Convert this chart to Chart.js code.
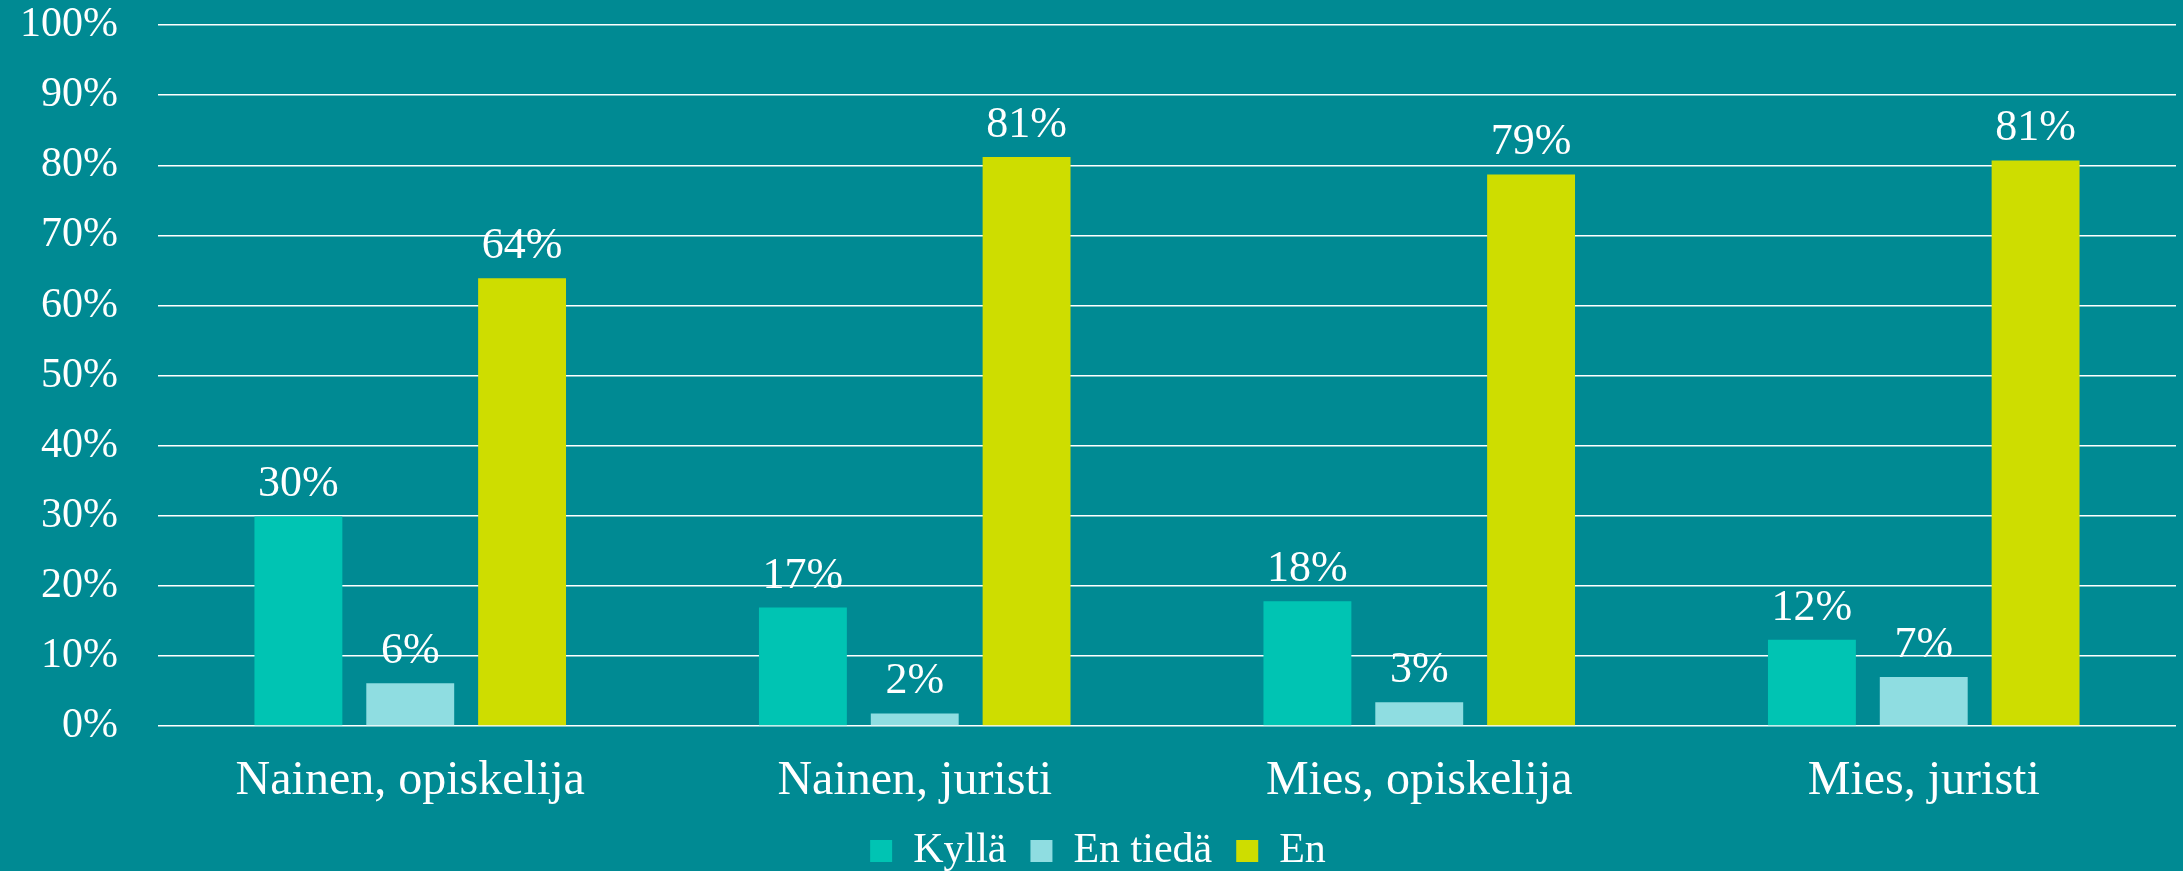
<!DOCTYPE html>
<html>
<head>
<meta charset="utf-8">
<script src="https://cdn.jsdelivr.net/npm/chart.js@4/dist/chart.umd.min.js"></script>
<style>
  html, body { margin: 0; padding: 0; background: #008a93; }
  #wrap { width: 2183px; height: 871px; }
</style>
</head>
<body>
<div id="wrap"><canvas id="myChart" width="2183" height="871"></canvas></div>
<script>
const categories = ['Nainen, opiskelija', 'Nainen, juristi', 'Mies, opiskelija', 'Mies, juristi'];
const seriesNames = ['Kyllä', 'En tiedä', 'En'];
const kylla = [29.9, 16.9, 17.8, 12.3];
const enTieda = [6.1, 1.8, 3.4, 7.0];
const en = [63.9, 81.2, 78.7, 80.7];
const colors = ['#00c4b3', '#8fdde1', '#cedd00'];
const yTicks = [0, 10, 20, 30, 40, 50, 60, 70, 80, 90, 100];

const FONT = '"Liberation Serif", "Times New Roman", serif';

// values above the bars
const barLabels = {
    id: 'barLabels',
    afterDatasetsDraw(chart) {
        const ctx = chart.ctx;
        ctx.save();
        ctx.fillStyle = '#ffffff';
        ctx.font = '44px ' + FONT;
        ctx.textAlign = 'center';
        ctx.textBaseline = 'alphabetic';
        chart.data.datasets.forEach((ds, i) => {
            chart.getDatasetMeta(i).data.forEach((bar, j) => {
                ctx.fillText(Math.round(ds.data[j]) + '%', bar.x, bar.y - 20);
            });
        });
        ctx.restore();
    }
};

const data = {
    labels: categories,
    datasets: [
        {label: seriesNames[0], data: kylla, backgroundColor: colors[0]},
        {label: seriesNames[1], data: enTieda, backgroundColor: colors[1]},
        {label: seriesNames[2], data: en, backgroundColor: colors[2]}
    ]
};

const config = {
    type: 'bar',
    data: data,
    options: {
        responsive: false,
        animation: false,
        categoryPercentage: 0.665,
        barPercentage: 0.786,
        layout: {padding: {top: -2, right: 7, bottom: -11, left: 20}},
        scales: {
            x: {
                grid: {display: false, drawTicks: false},
                border: {display: false},
                ticks: {color: '#ffffff', font: {family: FONT, size: 48}, padding: 27},
                afterFit: scale => { scale.height = 80; }
            },
            y: {
                min: 0,
                max: 100,
                afterBuildTicks: axis => { axis.ticks = yTicks.map(v => ({value: v})); },
                grid: {color: '#ffffff', lineWidth: 1.6, tickLength: 40, tickColor: 'rgba(0,0,0,0)'},
                border: {display: false},
                ticks: {
                    color: '#ffffff',
                    font: {family: FONT, size: 42},
                    padding: 0,
                    callback: v => v + '%'
                }
            }
        },
        plugins: {
            legend: {
                position: 'bottom',
                labels: {
                    color: '#ffffff',
                    font: {family: FONT, size: 42},
                    boxWidth: 22,
                    boxHeight: 22,
                    padding: 24
                }
            },
            tooltip: {enabled: false}
        }
    },
    plugins: [barLabels]
};

const myChart = new Chart(document.getElementById('myChart'), config);
</script>
</body>
</html>
